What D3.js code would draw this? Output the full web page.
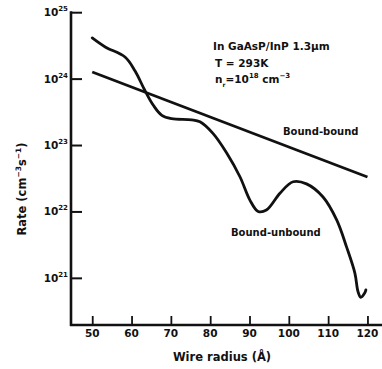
<!DOCTYPE html>
<html>
<head>
<meta charset="utf-8">
<script src="https://cdn.jsdelivr.net/npm/d3@7"></script>
<style>
	body { margin: 0; background: #fff; }
	svg text { font-family: "DejaVu Sans", sans-serif; font-weight: bold; fill: #111; }
</style>
</head>
<body>
<div id="chart"></div>
<script>
// wire radius (Angstrom) -> rate (cm^-3 s^-1)
var boundBoundRadius = [50, 120];
var boundBoundRate = [1.26e24, 3.3e22];

var unboundRadius = [50, 53.3, 58.4, 60.9, 63.3, 65.5, 67.7, 70.2, 75.3, 77.4, 80.7, 84.2, 87.6, 90.1, 92.2, 94.3, 97.8, 101.1, 104.5, 108.7, 112.2, 114.7, 116.8, 117.6, 118.3, 119.3, 119.6];
var unboundRate = [4.1e24, 3.0e24, 2.1e24, 1.3e24, 6.8e23, 4.0e23, 2.8e23, 2.5e23, 2.4e23, 2.24e23, 1.5e23, 7.6e22, 3.3e22, 1.48e22, 1.0e22, 1.05e22, 1.9e22, 2.8e22, 2.6e22, 1.65e22, 7.4e21, 2.9e21, 1.18e21, 6.2e20, 5.1e20, 5.9e20, 6.6e20];

var xTicks = [50, 60, 70, 80, 90, 100, 110, 120];
var yTickExp = [21, 22, 23, 24, 25];

var width = 382, height = 369;
var svg = d3.select("#chart").append("svg")
	.attr("width", width)
	.attr("height", height);

var x = d3.scaleLinear().domain([44.6, 123.7]).range([71, 382]);
var y = d3.scaleLog().domain([Math.pow(10, 20.29), 1e25]).range([325, 12.2]);

// ticks point inward like the original
var xAxis = d3.axisTop(x).tickValues(xTicks).tickSize(9).tickFormat("");
svg.append("g").attr("transform", "translate(0,325)").call(xAxis)
	.call(function(g) {
		g.select(".domain").remove();
		g.selectAll("line").attr("stroke", "#111").attr("stroke-width", 1.8);
	});

var yAxis = d3.axisRight(y).tickValues(yTickExp.map(function(e) { return Math.pow(10, e); }))
	.tickSize(11).tickFormat("");
svg.append("g").attr("transform", "translate(71,0)").call(yAxis)
	.call(function(g) {
		g.select(".domain").remove();
		g.selectAll("line").attr("stroke", "#111").attr("stroke-width", 2);
	});

// axis lines
svg.append("line").attr("x1", 71).attr("x2", 71).attr("y1", y(1e25) - 1).attr("y2", 326)
	.attr("stroke", "#111").attr("stroke-width", 2.6);
svg.append("line").attr("x1", 70).attr("x2", 382).attr("y1", 325).attr("y2", 325)
	.attr("stroke", "#111").attr("stroke-width", 2.6);

// tick labels
svg.selectAll(".xlab").data(xTicks).enter().append("text")
	.attr("class", "xlab")
	.attr("x", function(d) { return x(d); })
	.attr("y", 337)
	.attr("text-anchor", "middle")
	.attr("font-size", 10.5)
	.text(function(d) { return d; });

var ylab = svg.selectAll(".ylab").data(yTickExp).enter().append("text")
	.attr("class", "ylab")
	.attr("x", 68)
	.attr("y", function(d) { return y(Math.pow(10, d)) + 4; })
	.attr("text-anchor", "end")
	.attr("font-size", 10.5);
ylab.append("tspan").text("10");
ylab.append("tspan").attr("dy", -5).attr("font-size", 7).text(function(d) { return d; });

// axis titles
svg.append("text")
	.attr("x", 222).attr("y", 361)
	.attr("text-anchor", "middle")
	.attr("font-size", 11.5)
	.text("Wire radius (Å)");

var yt = svg.append("text")
	.attr("transform", "translate(26,189) rotate(-90)")
	.attr("text-anchor", "middle")
	.attr("font-size", 11.5);
yt.append("tspan").text("Rate (cm");
yt.append("tspan").attr("dy", -5).attr("font-size", 7.5).text("−3");
yt.append("tspan").attr("dy", 5).text("s");
yt.append("tspan").attr("dy", -5).attr("font-size", 7.5).text("−1");
yt.append("tspan").attr("dy", 5).text(")");

// curves
var line = d3.line()
	.x(function(d) { return x(d[0]); })
	.y(function(d) { return y(d[1]); });

svg.append("path")
	.datum(d3.zip(boundBoundRadius, boundBoundRate))
	.attr("d", line)
	.attr("fill", "none").attr("stroke", "#111").attr("stroke-width", 2.8);

svg.append("path")
	.datum(d3.zip(unboundRadius, unboundRate))
	.attr("d", line.curve(d3.curveCatmullRom.alpha(0.5)))
	.attr("fill", "none").attr("stroke", "#111").attr("stroke-width", 2.8)
	.attr("stroke-linecap", "round");

// curve labels
svg.append("text").attr("x", 283).attr("y", 135).attr("font-size", 10).text("Bound-bound");
svg.append("text").attr("x", 231).attr("y", 236).attr("font-size", 10).text("Bound-unbound");

// annotation block
svg.append("text").attr("x", 213).attr("y", 50).attr("font-size", 10.5).text("In GaAsP/InP 1.3μm");
svg.append("text").attr("x", 215).attr("y", 67).attr("font-size", 10.5).text("T = 293K");
var nr = svg.append("text").attr("x", 215).attr("y", 83).attr("font-size", 10.5);
nr.append("tspan").text("n");
nr.append("tspan").attr("dy", 4).attr("font-size", 6).text("r");
nr.append("tspan").attr("dy", -4).text("=10");
nr.append("tspan").attr("dy", -5).attr("font-size", 7).text("18");
nr.append("tspan").attr("dy", 5).text(" cm");
nr.append("tspan").attr("dy", -5).attr("font-size", 7).text("−3");
</script>
</body>
</html>
